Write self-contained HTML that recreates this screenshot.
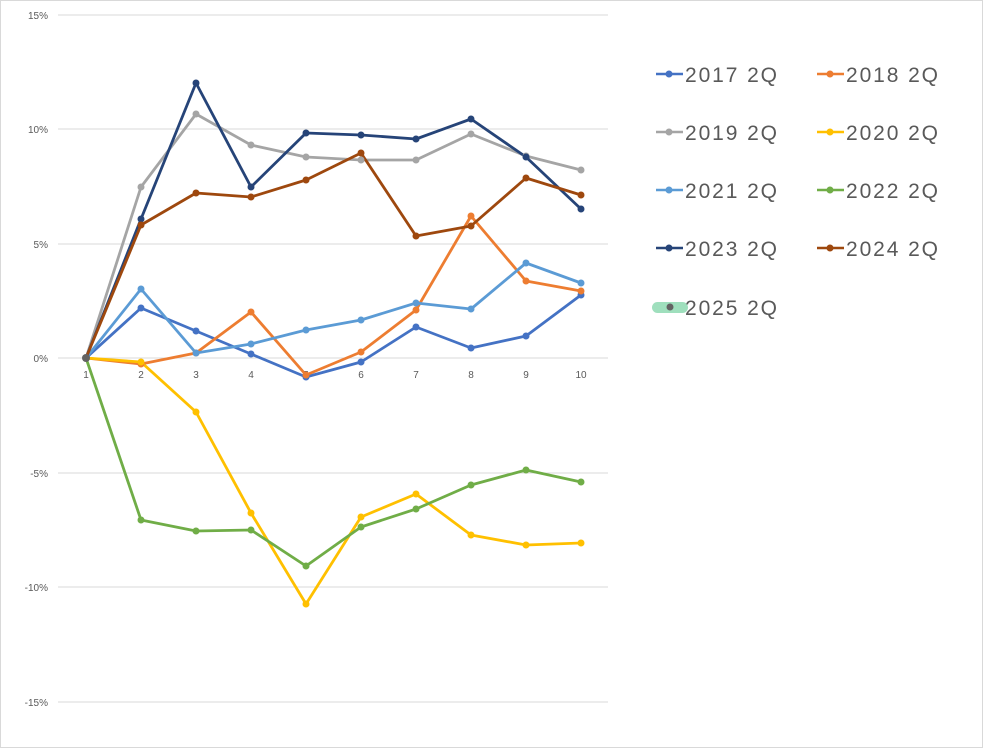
<!DOCTYPE html>
<html><head><style>body{margin:0;background:#fff}</style></head><body>
<svg width="983" height="748" xmlns="http://www.w3.org/2000/svg" font-family="Liberation Sans, sans-serif">
<rect x="0.5" y="0.5" width="982" height="747" fill="#fff" stroke="#d9d9d9"/>
<g stroke="#d9d9d9" stroke-width="1">
<line x1="58" x2="608" y1="15" y2="15"/><line x1="58" x2="608" y1="129" y2="129"/><line x1="58" x2="608" y1="244" y2="244"/><line x1="58" x2="608" y1="358" y2="358"/><line x1="58" x2="608" y1="473" y2="473"/><line x1="58" x2="608" y1="587" y2="587"/><line x1="58" x2="608" y1="702" y2="702"/>
</g>
<g fill="#595959" font-size="10" text-anchor="end">
<text x="48" y="19">15%</text><text x="48" y="133">10%</text><text x="48" y="248">5%</text><text x="48" y="362">0%</text><text x="48" y="477">-5%</text><text x="48" y="591">-10%</text><text x="48" y="706">-15%</text>
</g>
<g fill="#595959" font-size="10" text-anchor="middle">
<text x="86" y="378">1</text><text x="141" y="378">2</text><text x="196" y="378">3</text><text x="251" y="378">4</text><text x="306" y="378">5</text><text x="361" y="378">6</text><text x="416" y="378">7</text><text x="471" y="378">8</text><text x="526" y="378">9</text><text x="581" y="378">10</text>
</g>
<g fill="none" stroke-width="2.8" stroke-linejoin="round">
<polyline stroke="#4472c4" points="86,358 141,308 196,331 251,354 306,377 361,362 416,327 471,348 526,336 581,295"/>
<polyline stroke="#ed7d31" points="86,358 141,364 196,353 251,312 306,375 361,352 416,310 471,216 526,281 581,291"/>
<polyline stroke="#a5a5a5" points="86,358 141,187 196,114 251,145 306,157 361,160 416,160 471,134 526,156 581,170"/>
<polyline stroke="#ffc000" points="86,358 141,362 196,412 251,513 306,604 361,517 416,494 471,535 526,545 581,543"/>
<polyline stroke="#5b9bd5" points="86,358 141,289 196,353 251,344 306,330 361,320 416,303 471,309 526,263 581,283"/>
<polyline stroke="#70ad47" points="86,358 141,520 196,531 251,530 306,566 361,527 416,509 471,485 526,470 581,482"/>
<polyline stroke="#264478" points="86,358 141,219 196,83 251,187 306,133 361,135 416,139 471,119 526,157 581,209"/>
<polyline stroke="#9e480e" points="86,358 141,225 196,193 251,197 306,180 361,153 416,236 471,226 526,178 581,195"/>
</g>
<g>
<g fill="#4472c4"><circle cx="141" cy="308" r="3.5"/><circle cx="196" cy="331" r="3.5"/><circle cx="251" cy="354" r="3.5"/><circle cx="306" cy="377" r="3.5"/><circle cx="361" cy="362" r="3.5"/><circle cx="416" cy="327" r="3.5"/><circle cx="471" cy="348" r="3.5"/><circle cx="526" cy="336" r="3.5"/><circle cx="581" cy="295" r="3.5"/></g>
<g fill="#ed7d31"><circle cx="141" cy="364" r="3.5"/><circle cx="196" cy="353" r="3.5"/><circle cx="251" cy="312" r="3.5"/><circle cx="306" cy="375" r="3.5"/><circle cx="361" cy="352" r="3.5"/><circle cx="416" cy="310" r="3.5"/><circle cx="471" cy="216" r="3.5"/><circle cx="526" cy="281" r="3.5"/><circle cx="581" cy="291" r="3.5"/></g>
<g fill="#a5a5a5"><circle cx="141" cy="187" r="3.5"/><circle cx="196" cy="114" r="3.5"/><circle cx="251" cy="145" r="3.5"/><circle cx="306" cy="157" r="3.5"/><circle cx="361" cy="160" r="3.5"/><circle cx="416" cy="160" r="3.5"/><circle cx="471" cy="134" r="3.5"/><circle cx="526" cy="156" r="3.5"/><circle cx="581" cy="170" r="3.5"/></g>
<g fill="#ffc000"><circle cx="141" cy="362" r="3.5"/><circle cx="196" cy="412" r="3.5"/><circle cx="251" cy="513" r="3.5"/><circle cx="306" cy="604" r="3.5"/><circle cx="361" cy="517" r="3.5"/><circle cx="416" cy="494" r="3.5"/><circle cx="471" cy="535" r="3.5"/><circle cx="526" cy="545" r="3.5"/><circle cx="581" cy="543" r="3.5"/></g>
<g fill="#5b9bd5"><circle cx="141" cy="289" r="3.5"/><circle cx="196" cy="353" r="3.5"/><circle cx="251" cy="344" r="3.5"/><circle cx="306" cy="330" r="3.5"/><circle cx="361" cy="320" r="3.5"/><circle cx="416" cy="303" r="3.5"/><circle cx="471" cy="309" r="3.5"/><circle cx="526" cy="263" r="3.5"/><circle cx="581" cy="283" r="3.5"/></g>
<g fill="#70ad47"><circle cx="141" cy="520" r="3.5"/><circle cx="196" cy="531" r="3.5"/><circle cx="251" cy="530" r="3.5"/><circle cx="306" cy="566" r="3.5"/><circle cx="361" cy="527" r="3.5"/><circle cx="416" cy="509" r="3.5"/><circle cx="471" cy="485" r="3.5"/><circle cx="526" cy="470" r="3.5"/><circle cx="581" cy="482" r="3.5"/></g>
<g fill="#264478"><circle cx="141" cy="219" r="3.5"/><circle cx="196" cy="83" r="3.5"/><circle cx="251" cy="187" r="3.5"/><circle cx="306" cy="133" r="3.5"/><circle cx="361" cy="135" r="3.5"/><circle cx="416" cy="139" r="3.5"/><circle cx="471" cy="119" r="3.5"/><circle cx="526" cy="157" r="3.5"/><circle cx="581" cy="209" r="3.5"/></g>
<g fill="#9e480e"><circle cx="141" cy="225" r="3.5"/><circle cx="196" cy="193" r="3.5"/><circle cx="251" cy="197" r="3.5"/><circle cx="306" cy="180" r="3.5"/><circle cx="361" cy="153" r="3.5"/><circle cx="416" cy="236" r="3.5"/><circle cx="471" cy="226" r="3.5"/><circle cx="526" cy="178" r="3.5"/><circle cx="581" cy="195" r="3.5"/></g>
<circle cx="86" cy="358" r="4" fill="#636363"/>
</g>
<g font-size="21" fill="#595959">
<line x1="656" x2="683" y1="74" y2="74" stroke="#4472c4" stroke-width="2.5"/><circle cx="669" cy="74" r="3.5" fill="#4472c4"/><text x="685" y="82" textLength="92">2017 2Q</text>
<line x1="817" x2="844" y1="74" y2="74" stroke="#ed7d31" stroke-width="2.5"/><circle cx="830" cy="74" r="3.5" fill="#ed7d31"/><text x="846" y="82" textLength="92">2018 2Q</text>
<line x1="656" x2="683" y1="132" y2="132" stroke="#a5a5a5" stroke-width="2.5"/><circle cx="669" cy="132" r="3.5" fill="#a5a5a5"/><text x="685" y="140" textLength="92">2019 2Q</text>
<line x1="817" x2="844" y1="132" y2="132" stroke="#ffc000" stroke-width="2.5"/><circle cx="830" cy="132" r="3.5" fill="#ffc000"/><text x="846" y="140" textLength="92">2020 2Q</text>
<line x1="656" x2="683" y1="190" y2="190" stroke="#5b9bd5" stroke-width="2.5"/><circle cx="669" cy="190" r="3.5" fill="#5b9bd5"/><text x="685" y="198" textLength="92">2021 2Q</text>
<line x1="817" x2="844" y1="190" y2="190" stroke="#70ad47" stroke-width="2.5"/><circle cx="830" cy="190" r="3.5" fill="#70ad47"/><text x="846" y="198" textLength="92">2022 2Q</text>
<line x1="656" x2="683" y1="248" y2="248" stroke="#264478" stroke-width="2.5"/><circle cx="669" cy="248" r="3.5" fill="#264478"/><text x="685" y="256" textLength="92">2023 2Q</text>
<line x1="817" x2="844" y1="248" y2="248" stroke="#9e480e" stroke-width="2.5"/><circle cx="830" cy="248" r="3.5" fill="#9e480e"/><text x="846" y="256" textLength="92">2024 2Q</text>
<rect x="652" y="302" width="36" height="11" rx="5.5" fill="#9fdfbd"/><circle cx="670" cy="307" r="3.5" fill="#636363"/><text x="685" y="315" textLength="92">2025 2Q</text>
</g>
</svg>
</body></html>
